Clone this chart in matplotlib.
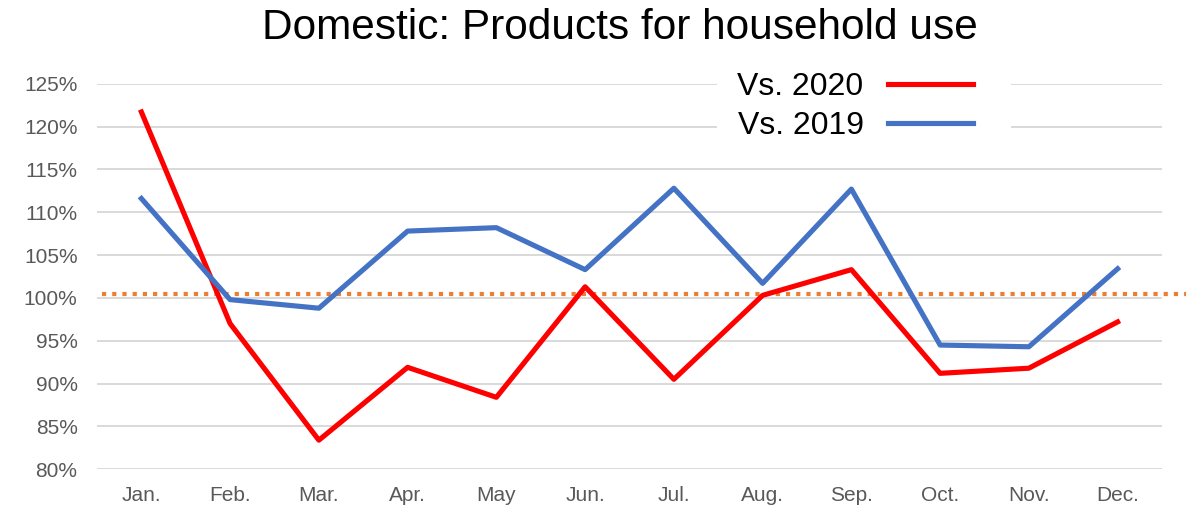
import matplotlib
matplotlib.use("Agg")
import matplotlib.pyplot as plt
from matplotlib.ticker import FuncFormatter
from matplotlib.patches import Rectangle

plt.rcParams['font.family'] = ['Liberation Sans', 'DejaVu Sans']

months = ["Jan.", "Feb.", "Mar.", "Apr.", "May", "Jun.", "Jul.", "Aug.", "Sep.", "Oct.", "Nov.", "Dec."]
vs2020 = [121.7, 97.0, 83.4, 91.9, 88.4, 101.3, 90.5, 100.3, 103.3, 91.2, 91.8, 97.2]
vs2019 = [111.6, 99.8, 98.8, 107.8, 108.2, 103.3, 112.8, 101.7, 112.7, 94.5, 94.3, 103.4]
reference_level = 100.5
yticks = [80, 85, 90, 95, 100, 105, 110, 115, 120, 125]

W, H = 1203, 508
fig = plt.figure(figsize=(W / 100, H / 100), dpi=100)
ax = fig.add_axes([97 / W, 1 - 469.3 / H, (1162 - 97) / W, (469.3 - 83.7) / H])

x = list(range(len(months)))
ax.plot(x, vs2020, color="#FF0000", lw=3.7, label="Vs. 2020", solid_joinstyle="round", zorder=3)
ax.plot(x, vs2019, color="#4472C4", lw=3.7, label="Vs. 2019", solid_joinstyle="round", zorder=3)
ax.plot([-0.44, 11.77], [reference_level, reference_level], color="#ED7D31", lw=3.0,
        linestyle=(0, (1.0, 1.45)), clip_on=False, zorder=2)

ax.set_xlim(-0.5, 11.5)
ax.set_ylim(80, 125)
ax.set_yticks(yticks)
ax.yaxis.set_major_formatter(FuncFormatter(lambda v, p: f"{v:.0f}%"))
ax.set_xticks(x)
ax.set_xticklabels(months)
ax.grid(axis="y", color="#D9D9D9", lw=1.4)
ax.set_axisbelow(True)
for s in ax.spines.values():
    s.set_visible(False)
ax.tick_params(length=0, labelsize=15, labelcolor="#595959")
ax.tick_params(axis="x", pad=12)
ax.tick_params(axis="y", pad=14)

# white legend background covering the gridlines
ax.add_patch(Rectangle((717 / W, 1 - 142 / H), (1011 - 717) / W, (142 - 64) / H,
                       transform=fig.transFigure, facecolor="white", edgecolor="none",
                       zorder=1.5, clip_on=False))

leg = ax.legend(loc="upper left", bbox_to_anchor=(731 / W, 1 - 66 / H), bbox_transform=fig.transFigure,
                markerfirst=False, frameon=False, fontsize=23, handlelength=2.65, handletextpad=0.78,
                labelspacing=0.28, borderpad=0.2, borderaxespad=0)

fig.text(620 / W, 1 - 28 / H, "Domestic: Products for household use", ha="center", va="center",
         fontsize=30.5, color="black")

fig.savefig("out.png", dpi=100)
